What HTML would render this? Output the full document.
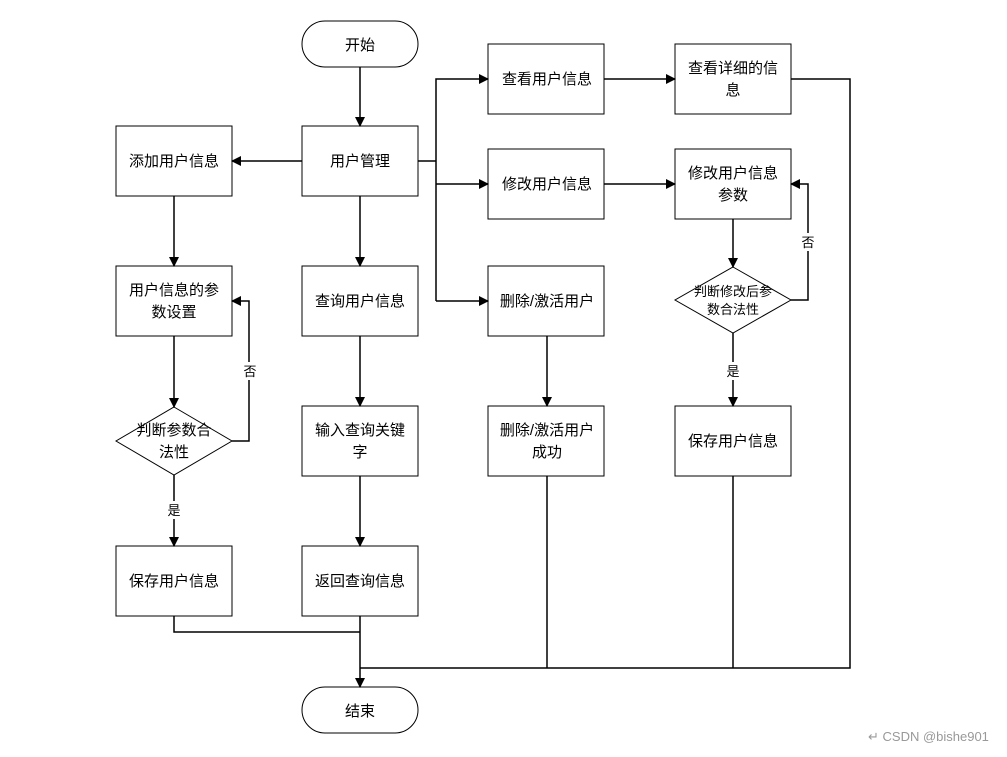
<!DOCTYPE html>
<html><head><meta charset="utf-8"><style>
html,body{margin:0;padding:0;background:#fff;}
text{font-family:"Liberation Sans","Noto Sans CJK SC",sans-serif;font-size:15px;fill:#000;}
</style></head><body>
<svg width="1007" height="752" viewBox="0 0 1007 752" xmlns="http://www.w3.org/2000/svg">
<defs><marker id="a" markerWidth="10" markerHeight="10" refX="9" refY="5" orient="auto" markerUnits="userSpaceOnUse"><path d="M0,0 L10,5 L0,10 z" fill="#000"/></marker></defs>
<g fill="#fff" stroke="#000" stroke-width="1">
<rect x="302" y="21" width="116" height="46" rx="23"/>
<rect x="302" y="687" width="116" height="46" rx="23"/>
<rect x="302" y="126" width="116" height="70"/>
<rect x="116" y="126" width="116" height="70"/>
<rect x="116" y="266" width="116" height="70"/>
<polygon points="174,407 232,441 174,475 116,441"/>
<rect x="116" y="546" width="116" height="70"/>
<rect x="302" y="266" width="116" height="70"/>
<rect x="302" y="406" width="116" height="70"/>
<rect x="302" y="546" width="116" height="70"/>
<rect x="488" y="44" width="116" height="70"/>
<rect x="488" y="149" width="116" height="70"/>
<rect x="488" y="266" width="116" height="70"/>
<rect x="488" y="406" width="116" height="70"/>
<rect x="675" y="44" width="116" height="70"/>
<rect x="675" y="149" width="116" height="70"/>
<polygon points="733,267 791,300 733,333 675,300"/>
<rect x="675" y="406" width="116" height="70"/>
</g>
<g fill="none" stroke="#000" stroke-width="1.5">
<line x1="360" y1="67" x2="360" y2="126" marker-end="url(#a)"/>
<line x1="302" y1="161" x2="232" y2="161" marker-end="url(#a)"/>
<line x1="174" y1="196" x2="174" y2="266" marker-end="url(#a)"/>
<line x1="174" y1="336" x2="174" y2="407" marker-end="url(#a)"/>
<line x1="174" y1="475" x2="174" y2="546" marker-end="url(#a)"/>
<polyline points="232,441 249,441 249,301 232,301" marker-end="url(#a)"/>
<line x1="360" y1="196" x2="360" y2="266" marker-end="url(#a)"/>
<line x1="360" y1="336" x2="360" y2="406" marker-end="url(#a)"/>
<line x1="360" y1="476" x2="360" y2="546" marker-end="url(#a)"/>
<polyline points="418,161 436,161"/>
<polyline points="436,301 436,79 488,79" marker-end="url(#a)"/>
<line x1="436" y1="184" x2="488" y2="184" marker-end="url(#a)"/>
<line x1="436" y1="301" x2="488" y2="301" marker-end="url(#a)"/>
<line x1="604" y1="79" x2="675" y2="79" marker-end="url(#a)"/>
<line x1="604" y1="184" x2="675" y2="184" marker-end="url(#a)"/>
<line x1="547" y1="336" x2="547" y2="406" marker-end="url(#a)"/>
<line x1="733" y1="219" x2="733" y2="267" marker-end="url(#a)"/>
<line x1="733" y1="333" x2="733" y2="406" marker-end="url(#a)"/>
<polyline points="791,300 808,300 808,184 791,184" marker-end="url(#a)"/>
<polyline points="791,79 850,79 850,668 360,668"/>
<polyline points="174,616 174,632 360,632"/>
<line x1="547" y1="476" x2="547" y2="668"/>
<line x1="733" y1="476" x2="733" y2="668"/>
<line x1="360" y1="616" x2="360" y2="687" marker-end="url(#a)"/>
</g>
<g text-anchor="middle">
<text x="360" y="50">开始</text>
<text x="360" y="716">结束</text>
<text x="360" y="166">用户管理</text>
<text x="174" y="166">添加用户信息</text>
<text x="174" y="295">用户信息的参</text>
<text x="174" y="317">数设置</text>
<text x="174" y="435">判断参数合</text>
<text x="174" y="457">法性</text>
<text x="174" y="586">保存用户信息</text>
<text x="360" y="306">查询用户信息</text>
<text x="360" y="435">输入查询关键</text>
<text x="360" y="457">字</text>
<text x="360" y="586">返回查询信息</text>
<text x="547" y="84">查看用户信息</text>
<text x="547" y="189">修改用户信息</text>
<text x="547" y="306">删除/激活用户</text>
<text x="547" y="435">删除/激活用户</text>
<text x="547" y="457">成功</text>
<text x="733" y="73">查看详细的信</text>
<text x="733" y="95">息</text>
<text x="733" y="178">修改用户信息</text>
<text x="733" y="200">参数</text>
<text x="733" y="296" style="font-size:13px">判断修改后参</text>
<text x="733" y="314" style="font-size:13px">数合法性</text>
<text x="733" y="446">保存用户信息</text>
</g>
<rect x="241" y="362" width="18" height="18" fill="#fff"/>
<text x="250" y="376" text-anchor="middle" style="font-size:13px">否</text>
<rect x="165" y="501" width="18" height="18" fill="#fff"/>
<text x="174" y="515" text-anchor="middle" style="font-size:13px">是</text>
<rect x="799" y="233" width="18" height="18" fill="#fff"/>
<text x="808" y="247" text-anchor="middle" style="font-size:13px">否</text>
<rect x="724" y="362" width="18" height="18" fill="#fff"/>
<text x="733" y="376" text-anchor="middle" style="font-size:13px">是</text>
<text x="868" y="741" style="font-size:13px;fill:#999">↵  CSDN @bishe901</text>
</svg>
</body></html>
